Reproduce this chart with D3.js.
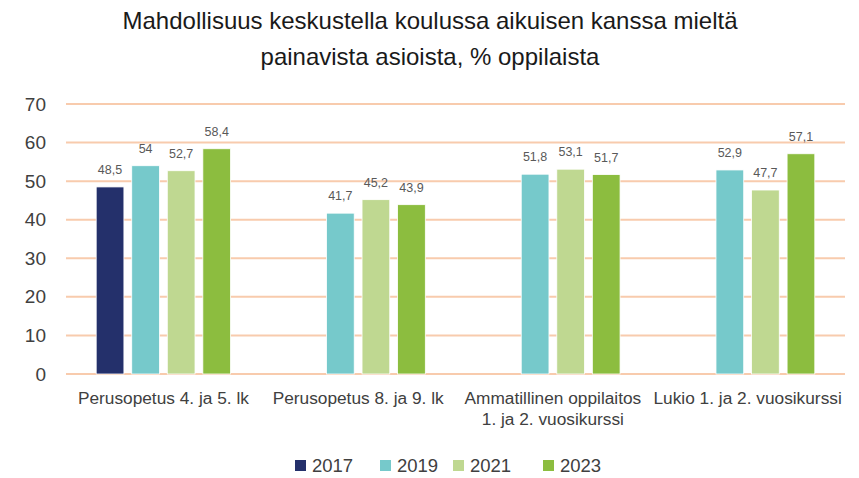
<!DOCTYPE html>
<html>
<head>
<meta charset="utf-8">
<script src="https://cdn.jsdelivr.net/npm/d3@7"></script>
<style>
  body { margin: 0; background: #fff; }
  text { font-family: "Liberation Sans", Arial, sans-serif; }
</style>
</head>
<body>
<svg id="chart" width="859" height="478"></svg>
<script>
// chart data
var categories = [
  ["Perusopetus 4. ja 5. lk"],
  ["Perusopetus 8. ja 9. lk"],
  ["Ammatillinen oppilaitos", "1. ja 2. vuosikurssi"],
  ["Lukio 1. ja 2. vuosikurssi"]
];
var years = ["2017", "2019", "2021", "2023"];
var values2017 = [48.5, null, null, null];
var values2019 = [54, 41.7, 51.8, 52.9];
var values2021 = [52.7, 45.2, 53.1, 47.7];
var values2023 = [58.4, 43.9, 51.7, 57.1];
var yTicks = [0, 10, 20, 30, 40, 50, 60, 70];
var colors = ["#24306b", "#76c9cb", "#bfd891", "#8cbd3f"];

var seriesList = [values2017, values2019, values2021, values2023];

var svg = d3.select("#chart");
var plotLeft = 66, plotRight = 845, plotTop = 104, plotBottom = 374;

// title
svg.append("text")
  .attr("x", 430).attr("y", 29)
  .attr("text-anchor", "middle")
  .attr("font-size", 24)
  .attr("fill", "#1a1a1a")
  .text("Mahdollisuus keskustella koulussa aikuisen kanssa mieltä");
svg.append("text")
  .attr("x", 430).attr("y", 65)
  .attr("text-anchor", "middle")
  .attr("font-size", 24)
  .attr("fill", "#1a1a1a")
  .text("painavista asioista, % oppilaista");

var x0 = d3.scaleBand()
  .domain(d3.range(categories.length))
  .range([plotLeft, plotRight])
  .paddingInner(0.31)
  .paddingOuter(0.155);

var x1 = d3.scaleBand()
  .domain(d3.range(years.length))
  .range([0, x0.bandwidth()])
  .paddingInner(0.22);

var y = d3.scaleLinear().domain([0, 70]).range([plotBottom, plotTop]);

// gridlines
svg.append("g")
  .selectAll("line")
  .data(yTicks)
  .enter()
  .append("line")
  .attr("x1", plotLeft).attr("x2", plotRight)
  .attr("y1", function(d){ return y(d); })
  .attr("y2", function(d){ return y(d); })
  .attr("stroke", "#f8cbad")
  .attr("stroke-width", 2);

// y axis labels
var yAxis = d3.axisLeft(y).tickValues(yTicks).tickSize(0).tickPadding(0);
var yg = svg.append("g")
  .attr("transform", "translate(46,0)")
  .call(yAxis);
yg.select(".domain").remove();
yg.selectAll("text")
  .attr("font-size", 19)
  .attr("font-family", "Liberation Sans, Arial, sans-serif")
  .attr("fill", "#404040");

// bars
var groups = svg.append("g")
  .selectAll("g")
  .data(categories)
  .enter()
  .append("g")
  .attr("transform", function(d, i){ return "translate(" + x0(i) + ",0)"; });

groups.each(function(c, ci){
  var g = d3.select(this);
  var rows = [];
  for (var s = 0; s < seriesList.length; s++) {
    if (seriesList[s][ci] != null) rows.push({ s: s, v: seriesList[s][ci] });
  }
  g.selectAll("rect")
    .data(rows)
    .enter()
    .append("rect")
    .attr("x", function(d){ return x1(d.s); })
    .attr("y", function(d){ return y(d.v); })
    .attr("width", x1.bandwidth())
    .attr("height", function(d){ return y(0) - y(d.v); })
    .attr("fill", function(d){ return colors[d.s]; })
    .attr("stroke", "#ffffff")
    .attr("stroke-width", 0.8);
  g.selectAll("text.lbl")
    .data(rows)
    .enter()
    .append("text")
    .attr("class", "lbl")
    .attr("x", function(d){ return x1(d.s) + x1.bandwidth() / 2; })
    .attr("y", function(d){ return y(d.v) - 13; })
    .attr("text-anchor", "middle")
    .attr("font-size", 12.5)
    .attr("fill", "#595959")
    .text(function(d){ return String(d.v).replace(".", ","); });
});

// x category labels
svg.append("g")
  .selectAll("text")
  .data(categories)
  .enter()
  .append("text")
  .attr("x", function(d, i){ return x0(i) + x0.bandwidth() / 2; })
  .attr("y", 404)
  .attr("text-anchor", "middle")
  .attr("font-size", 17.3)
  .attr("fill", "#404040")
  .each(function(lines){
    var t = d3.select(this);
    lines.forEach(function(line, k){
      t.append("tspan")
        .attr("x", t.attr("x"))
        .attr("dy", k === 0 ? 0 : 21)
        .text(line);
    });
  });

// legend
var legendX = [295, 380, 453, 543];
var legend = svg.append("g")
  .selectAll("g")
  .data(years)
  .enter()
  .append("g")
  .attr("transform", function(d, i){ return "translate(" + legendX[i] + ",460)"; });
legend.append("rect")
  .attr("width", 11).attr("height", 11)
  .attr("fill", function(d, i){ return colors[i]; });
legend.append("text")
  .attr("x", 17).attr("y", 12)
  .attr("font-size", 18.5)
  .attr("fill", "#404040")
  .text(function(d){ return d; });
</script>
</body>
</html>
